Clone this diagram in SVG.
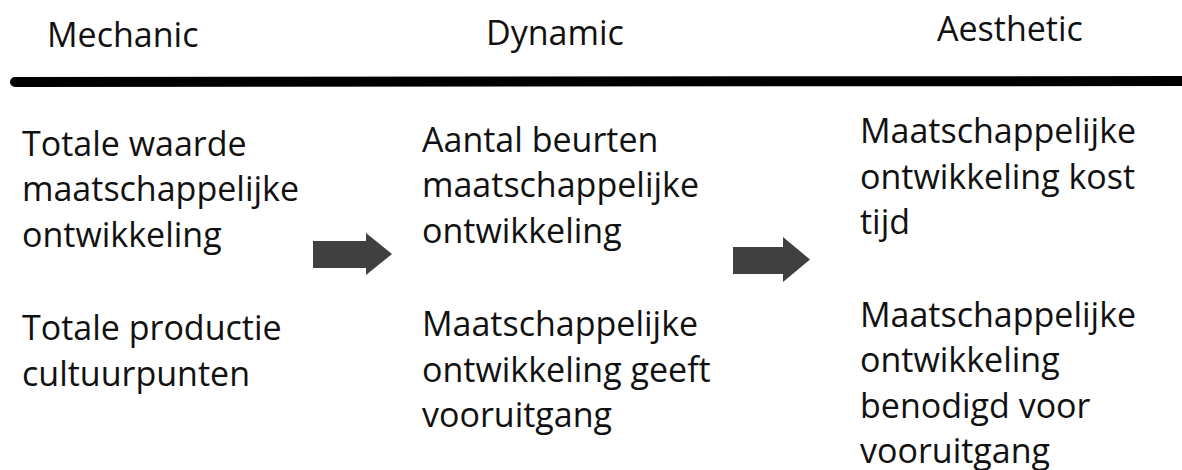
<svg xmlns="http://www.w3.org/2000/svg" width="1182" height="470" viewBox="0 0 1182 470">
<style>
text{font-family:"Open Sans","Noto Sans","DejaVu Sans",sans-serif;font-size:34px;fill:#111;}
.arrow{fill:#404040;}
</style>
<rect width="1182" height="470" fill="#fff"/>
<g id="headers">
<text x="47" y="47">Mechanic</text>
<text x="486" y="45">Dynamic</text>
<text x="937" y="41">Aesthetic</text>
</g>
<line x1="15" y1="82" x2="1190" y2="81" stroke="#000" stroke-width="10" stroke-linecap="round"/>
<g id="mechanic">
<text x="22" y="156">Totale waarde</text>
<text x="22" y="201">maatschappelijke</text>
<text x="22" y="247">ontwikkeling</text>
<text x="22" y="340">Totale productie</text>
<text x="22" y="386">cultuurpunten</text>
</g>
<g id="dynamic">
<text x="422" y="152">Aantal beurten</text>
<text x="422" y="197">maatschappelijke</text>
<text x="422" y="243">ontwikkeling</text>
<text x="422" y="336">Maatschappelijke</text>
<text x="422" y="382">ontwikkeling geeft</text>
<text x="422" y="427">vooruitgang</text>
</g>
<g id="aesthetic">
<text x="860" y="143">Maatschappelijke</text>
<text x="860" y="189">ontwikkeling kost</text>
<text x="860" y="234">tijd</text>
<text x="860" y="327">Maatschappelijke</text>
<text x="860" y="372">ontwikkeling</text>
<text x="860" y="418">benodigd voor</text>
<text x="860" y="463">vooruitgang</text>
</g>
<g id="connectors">
<polygon class="arrow" points="313,241 366,241 366,233 392,254 366,275 366,268 313,268"/>
<polygon class="arrow" points="733,247 783,247 783,237 810,259.5 783,282 783,274 733,274"/>
</g>
</svg>
